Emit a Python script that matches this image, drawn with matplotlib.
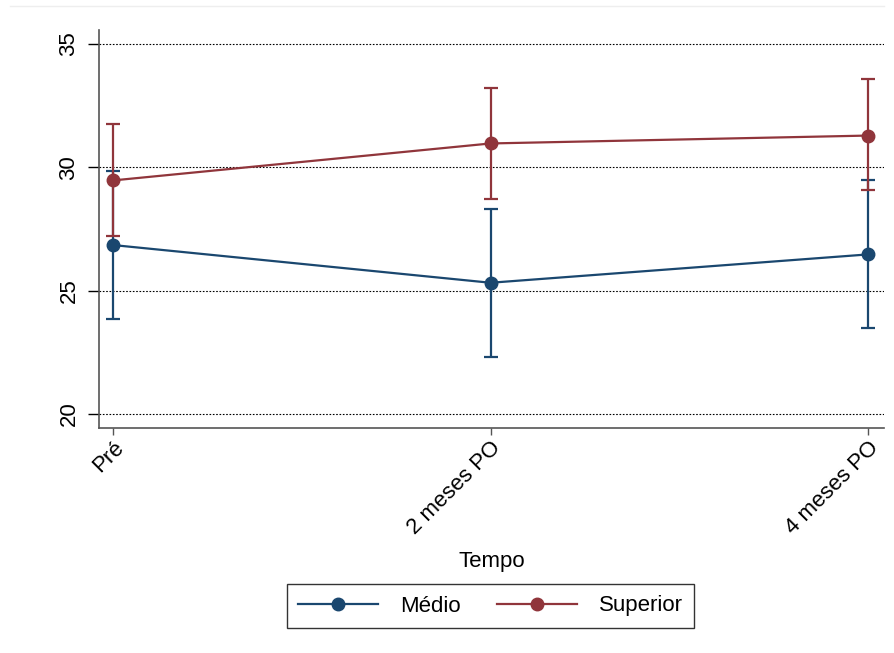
import matplotlib.pyplot as plt
import numpy as np

plt.rcParams['font.family'] = ['Liberation Sans', 'DejaVu Sans']

tempo = ['Pré', '2 meses PO', '4 meses PO']
medio = [26.85, 25.32, 26.47]
medio_lo = [23.85, 22.31, 23.47]
medio_hi = [29.86, 28.31, 29.48]
superior = [29.47, 30.97, 31.29]
superior_lo = [27.23, 28.70, 29.07]
superior_hi = [31.74, 33.20, 33.57]

cor_medio = '#1a476f'
cor_sup = '#90353b'

fig = plt.figure(figsize=(8.94, 6.53), dpi=100)
ax = fig.add_axes([0.1107, 0.3446, 0.8781, 0.6094])

x = np.arange(len(tempo))
for y, lo, hi, cor, nome in [(medio, medio_lo, medio_hi, cor_medio, 'Médio'),
                             (superior, superior_lo, superior_hi, cor_sup, 'Superior')]:
    y = np.array(y)
    err = [y - np.array(lo), np.array(hi) - y]
    ax.errorbar(x, y, yerr=err, fmt='none', ecolor=cor, elinewidth=1.6,
                capsize=5, capthick=1.6, zorder=3)
    ax.plot(x, y, color=cor, lw=1.6, marker='o', markersize=9, label=nome, zorder=4)

ax.set_ylim(19.43, 35.57)
ax.set_xlim(-0.037, 2.042)
ax.set_yticks([20, 25, 30, 35])
ax.set_xticks(x)
ax.set_xticklabels(tempo, rotation=45, ha='right', rotation_mode='anchor', fontsize=16)
for lab in ax.get_yticklabels():
    lab.set_rotation(90)
    lab.set_va('center')
ax.tick_params(axis='y', labelsize=16, length=8, width=1, pad=6)
ax.tick_params(axis='x', length=5, width=1, color='#555555', pad=2)
ax.yaxis.grid(True, linestyle=(0, (1.5, 1.5)), color='black', lw=0.8)
ax.set_axisbelow(True)
for s in ['top', 'right']:
    ax.spines[s].set_visible(False)
for s in ['left', 'bottom']:
    ax.spines[s].set_color('#555555')
    ax.spines[s].set_linewidth(1.2)

ax.set_xlabel('Tempo', fontsize=16, labelpad=9)
leg = fig.legend(loc='center', ncol=2, fontsize=16, fancybox=False, edgecolor='black',
                 handlelength=3.6, columnspacing=1.6, borderpad=0.5, handletextpad=1.0)
leg.set_bbox_to_anchor((0.5487, 1 - 606 / 653), transform=fig.transFigure)
leg.get_frame().set_linewidth(1.0)

fig.add_artist(plt.Line2D([0.011, 0.989], [1 - 6 / 653, 1 - 6 / 653], color='#eeeeee', lw=1))

fig.savefig('out.png', dpi=100)
